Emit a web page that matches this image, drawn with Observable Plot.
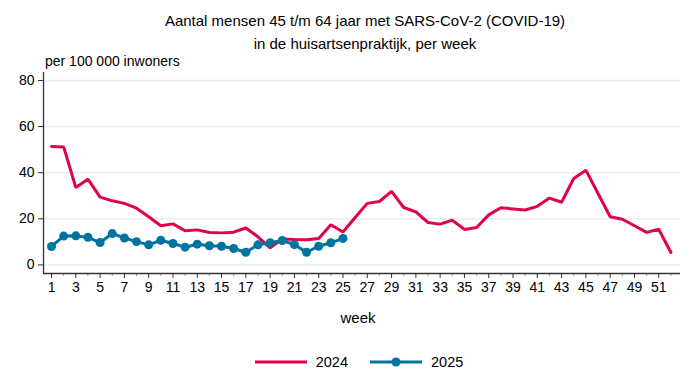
<!DOCTYPE html>
<html>
<head>
<meta charset="utf-8">
<script src="https://cdn.jsdelivr.net/npm/d3@7"></script>
<script src="https://cdn.jsdelivr.net/npm/@observablehq/plot@0.6"></script>
<style>
  html, body { margin: 0; padding: 0; background: #fff; }
  body { width: 692px; height: 388px; position: relative; overflow: hidden;
         font-family: "Liberation Sans", Arial, sans-serif; color: #000; }
  #chart { position: absolute; left: 0; top: 0; }
  .title { position: absolute; left: 40px; width: 650px; text-align: center; font-size: 15px; line-height: 23px; top: 9px; }
  .unit { position: absolute; left: 45px; top: 53px; font-size: 14px; }
  .legend { position: absolute; top: 354px; left: 0; width: 692px; display: flex; justify-content: center; padding-left: 26px; box-sizing: border-box; font-size: 14.5px; align-items: center; }
  .legend .item { display: flex; align-items: center; margin: 0 11px; }
  .legend svg { margin-right: 9px; }
</style>
</head>
<body>
<div id="chart"></div>
<div class="title">Aantal mensen 45 t/m 64 jaar met SARS-CoV-2 (COVID-19)<br>in de huisartsenpraktijk, per week</div>
<div class="unit">per 100 000 inwoners</div>
<div class="legend" id="legend"></div>
<script>
const weeks2024 = d3.range(1, 53);
const values2024 = [51.4, 51.2, 33.6, 37.2, 29.4, 27.8, 26.7, 24.6, 20.9, 17.0,
  17.8, 14.8, 15.2, 14.1, 13.9, 14.2, 16.0, 12.2, 7.4, 11.2,
  11.0, 10.9, 11.5, 17.4, 14.3, 20.6, 26.7, 27.5, 31.9, 24.9,
  23.0, 18.4, 17.7, 19.4, 15.4, 16.2, 21.7, 24.8, 24.3, 23.8,
  25.4, 29.0, 27.2, 37.5, 41.1, 31.0, 20.9, 19.8, 17.0, 14.1,
  15.5, 5.4];
const weeks2025 = d3.range(1, 26);
const values2025 = [8.0, 12.5, 12.6, 12.0, 9.7, 13.6, 11.7, 10.1, 8.7, 10.7,
  9.3, 7.7, 9.0, 8.3, 8.1, 7.1, 5.5, 8.7, 9.6, 10.6,
  8.8, 5.5, 8.1, 9.6, 11.5];
const seriesNames = ["2024", "2025"];
const seriesColors = ["#e3004a", "#00739f"];
const yTicks = [0, 20, 40, 60, 80];
const xLabelTicks = d3.range(1, 53, 2);
const xMinorTicks = d3.range(2, 53, 2);

const data2024 = weeks2024.map((w, i) => ({week: w, value: values2024[i]}));
const data2025 = weeks2025.map((w, i) => ({week: w, value: values2025[i]}));

const xDomain = [0.34, 52.79];
const yDomain = [-3.72, 83.46];

const chart = Plot.plot({
  width: 692,
  height: 388,
  marginTop: 72,
  marginBottom: 115,
  marginLeft: 43,
  marginRight: 12,
  style: {fontFamily: "'Liberation Sans', Arial, sans-serif", fontSize: "14px", color: "#000", background: "#fff"},
  x: {type: "linear", domain: xDomain},
  y: {domain: yDomain},
  marks: [
    Plot.gridY(yTicks, {stroke: "#e6eef0", strokeOpacity: 1, strokeWidth: 1.5}),
    Plot.axisY(yTicks, {tickSize: 5, tickPadding: 4, fontSize: 14, label: null, stroke: "#333"}),
    Plot.axisX(xLabelTicks, {tickSize: 5, tickPadding: 4, fontSize: 14, label: null, stroke: "#333"}),
    Plot.axisX(xMinorTicks, {tickSize: 3, text: null, label: null, stroke: "#999"}),
    Plot.ruleX([xDomain[0]], {stroke: "#333", strokeWidth: 1.3}),
    Plot.ruleY([yDomain[0]], {stroke: "#333", strokeWidth: 1.3}),
    Plot.text(["week"], {frameAnchor: "bottom", dy: 49, fontSize: 15, dx: -4}),
    Plot.line(data2024, {x: "week", y: "value", stroke: seriesColors[0], strokeWidth: 3, strokeLinejoin: "miter"}),
    Plot.line(data2025, {x: "week", y: "value", stroke: seriesColors[1], strokeWidth: 3}),
    Plot.dot(data2025, {x: "week", y: "value", fill: seriesColors[1], r: 4.5})
  ]
});
document.getElementById("chart").appendChild(chart);

const legend = document.getElementById("legend");
seriesNames.forEach((name, i) => {
  const item = document.createElement("div");
  item.className = "item";
  const dot = i === 1 ? `<circle cx="26" cy="8" r="4.5" fill="${seriesColors[i]}"/>` : "";
  item.innerHTML = `<svg width="52" height="16"><line x1="0" x2="52" y1="8" y2="8" stroke="${seriesColors[i]}" stroke-width="3"/>${dot}</svg><span>${name}</span>`;
  legend.appendChild(item);
});
</script>
</body>
</html>
